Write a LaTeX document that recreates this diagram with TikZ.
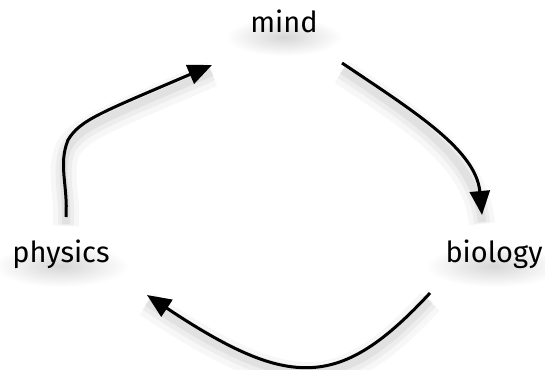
\documentclass[tikz,border=0pt]{standalone}
\usepackage{fontspec}
\setmainfont{Fira Sans}
\usetikzlibrary{arrows.meta,calc,positioning}

\begin{document}
\begin{tikzpicture}[x=1pt,y=-1pt,
  lbl/.style={anchor=base, inner sep=0pt, font=\fontsize{29}{32}\selectfont},
  lblshadow/.style={inner color=black!16, outer color=white},
  flow/.style={line width=3pt, -{Triangle[length=24pt,width=20pt]},
    preaction={draw, -, opacity=0.03, line width=26pt, transform canvas={yshift=-9pt}},
    preaction={draw, -, opacity=0.04, line width=16pt, transform canvas={yshift=-8pt}},
    preaction={draw, -, opacity=0.05, line width=8pt, transform canvas={yshift=-7pt}}}]
\useasboundingbox (0,0) rectangle (545,369);
% soft shadows under the words
\shade[lblshadow] (284,37) ellipse (58 and 19);
\shade[lblshadow] (61,266) ellipse (68 and 21);
\shade[lblshadow] (494,266) ellipse (68 and 21);
% the three words
\node[lbl] (mind) at (284,33) {mind};
\node[lbl] (physics) at (61,262) {physics};
\node[lbl] (biology) at (494,262) {biology};
% arrow ends
\coordinate (physics-out) at (66,217);
\coordinate (mind-in) at (212,65);
\coordinate (mind-out) at (342,63);
\coordinate (biology-in) at (482,215);
\coordinate (biology-out) at (430,293);
\coordinate (physics-in) at (147,295);
% the cycle
\draw[flow] (physics-out) .. controls (68,185) and (58,165) .. (68,140)
  .. controls (80,120) and (100,113) .. (mind-in);
\draw[flow] (mind-out) .. controls (415,112) and (476,150) .. (biology-in);
\draw[flow] (biology-out) .. controls (340,390) and (290,390) .. (physics-in);
\end{tikzpicture}
\end{document}
